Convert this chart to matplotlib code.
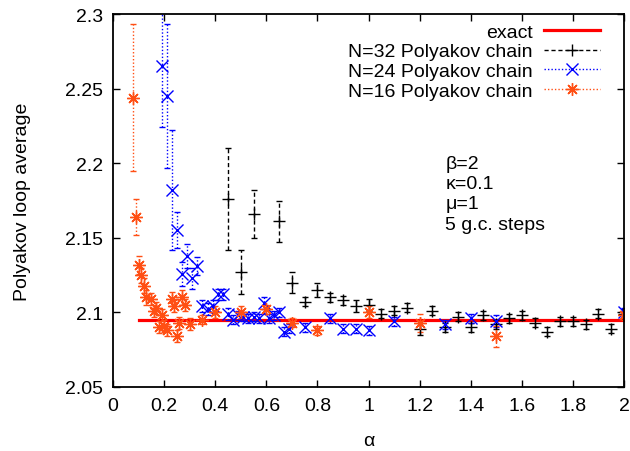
import matplotlib.pyplot as plt
from matplotlib.lines import Line2D
import numpy as np

plt.rcParams['font.family'] = ['Liberation Sans', 'DejaVu Sans']

exact_value = 2.095
exact_range = [0.1, 2.0]

# N=16 Polyakov chain
a16 = [0.08, 0.09, 0.10, 0.11, 0.12, 0.13, 0.15, 0.16, 0.17, 0.18, 0.19, 0.20,
       0.21, 0.23, 0.24, 0.25, 0.26, 0.27, 0.28, 0.30, 0.35, 0.40, 0.50, 0.60,
       0.70, 0.80, 1.00, 1.20, 1.50, 2.00]
p16 = [2.244, 2.164, 2.132, 2.125, 2.118, 2.110, 2.109, 2.101, 2.103, 2.090, 2.098, 2.091,
       2.088, 2.109, 2.104, 2.084, 2.093, 2.110, 2.105, 2.092, 2.095, 2.100, 2.100, 2.102,
       2.093, 2.088, 2.100, 2.093, 2.084, 2.098]
e16 = [0.049, 0.012, 0.006, 0.005, 0.005, 0.005, 0.004, 0.004, 0.004, 0.004, 0.004, 0.004,
       0.004, 0.005, 0.004, 0.004, 0.004, 0.005, 0.004, 0.004, 0.003, 0.004, 0.004, 0.003,
       0.003, 0.003, 0.004, 0.006, 0.007, 0.003]

# N=24 Polyakov chain
a24 = [0.19, 0.21, 0.23, 0.25, 0.27, 0.29, 0.31, 0.33, 0.35, 0.37, 0.39, 0.41,
       0.43, 0.45, 0.47, 0.49, 0.51, 0.53, 0.55, 0.57, 0.59, 0.61, 0.63, 0.65,
       0.67, 0.69, 0.75, 0.85, 0.90, 0.95, 1.00, 1.10, 1.30, 1.40, 1.50, 2.00]
p24 = [2.265, 2.245, 2.182, 2.155, 2.126, 2.138, 2.123, 2.131, 2.104, 2.102, 2.104, 2.112,
       2.112, 2.099, 2.095, 2.098, 2.097, 2.096, 2.097, 2.096, 2.106, 2.096, 2.098, 2.100,
       2.087, 2.089, 2.090, 2.096, 2.089, 2.089, 2.088, 2.094, 2.092, 2.096, 2.094, 2.100]
e24 = [0.041, 0.048, 0.040, 0.012, 0.008, 0.008, 0.007, 0.006, 0.004, 0.004, 0.004, 0.004,
       0.004, 0.004, 0.003, 0.003, 0.003, 0.003, 0.003, 0.003, 0.004, 0.003, 0.003, 0.003,
       0.003, 0.003, 0.003, 0.003, 0.003, 0.003, 0.003, 0.003, 0.003, 0.003, 0.004, 0.003]

# N=32 Polyakov chain
a32 = [0.45, 0.50, 0.55, 0.65, 0.70, 0.75, 0.80, 0.85, 0.90, 0.95, 1.00, 1.05,
       1.10, 1.15, 1.20, 1.25, 1.30, 1.35, 1.40, 1.45, 1.50, 1.55, 1.60, 1.65,
       1.70, 1.75, 1.80, 1.85, 1.90, 1.95, 2.00]
p32 = [2.176, 2.127, 2.166, 2.161, 2.120, 2.107, 2.115, 2.110, 2.108, 2.104, 2.105, 2.099,
       2.101, 2.103, 2.089, 2.101, 2.090, 2.097, 2.090, 2.098, 2.092, 2.096, 2.098, 2.093,
       2.087, 2.094, 2.094, 2.092, 2.099, 2.089, 2.099]
e32 = [0.034, 0.015, 0.016, 0.014, 0.007, 0.003, 0.005, 0.003, 0.003, 0.004, 0.004, 0.003,
       0.003, 0.003, 0.004, 0.003, 0.003, 0.003, 0.003, 0.003, 0.003, 0.003, 0.003, 0.003,
       0.003, 0.003, 0.003, 0.003, 0.003, 0.003, 0.003]

annotation = ['\u03b2=2', '\u03ba=0.1', '\u03bc=1', '5 g.c. steps']

c_exact = '#ff0000'
c32 = '#000000'
c24 = '#0000ff'
c16 = '#ff4f14'
star = (8, 2, 0)
fs = 14


def draw_series(ax, x, y, err, color, marker, ls, ms):
    eb = ax.errorbar(x, y, yerr=err, marker=marker, linestyle='none', color=color, ms=ms,
                     mew=1.0, elinewidth=1.0, capsize=2.5, capthick=1.0)
    for coll in eb[2]:
        coll.set_linestyle(ls)
    return eb


fig = plt.figure(figsize=(6.3, 4.52), dpi=100)
ax = fig.add_axes([0.1794, 0.1416, 0.8111, 0.8252])

ax.plot(exact_range, [exact_value, exact_value], color=c_exact, lw=2.3, zorder=2)
draw_series(ax, a32, p32, e32, c32, '+', (0, (3, 2)), 8)
draw_series(ax, a24, p24, e24, c24, 'x', (0, (1, 1.5)), 8)
draw_series(ax, a16, p16, e16, c16, star, (0, (1, 1.5)), 9)

ax.set_xlim(0, 2)
ax.set_ylim(2.05, 2.3)
ax.set_xticks(np.arange(0, 2.01, 0.2))
ax.set_xticklabels(['0', '0.2', '0.4', '0.6', '0.8', '1', '1.2', '1.4', '1.6', '1.8', '2'])
ax.set_yticks([2.05, 2.1, 2.15, 2.2, 2.25, 2.3])
ax.set_yticklabels(['2.05', '2.1', '2.15', '2.2', '2.25', '2.3'])
ax.tick_params(direction='in', length=5, width=1, labelsize=fs, top=True, right=True, pad=7)
for s in ax.spines.values():
    s.set_linewidth(1.3)

ax.set_xlabel('\u03b1', fontsize=fs)
ax.xaxis.set_label_coords(0.5, -0.12)
ax.set_ylabel('Polyakov loop average', fontsize=fs)
ax.yaxis.set_label_coords(-0.16, 0.5)

for i, t in enumerate(annotation):
    ax.text(0.65, 0.6 - i * 0.0545, t, transform=ax.transAxes, fontsize=fs, va='center')

handles = [
    Line2D([], [], color=c_exact, lw=2.3),
    Line2D([], [], color=c32, lw=1.0, ls=(0, (3, 2)), marker='+', ms=8),
    Line2D([], [], color=c24, lw=1.0, ls=(0, (1, 1.5)), marker='x', ms=8),
    Line2D([], [], color=c16, lw=1.0, ls=(0, (1, 1.5)), marker=star, ms=9),
]
labels = ['exact', 'N=32 Polyakov chain', 'N=24 Polyakov chain', 'N=16 Polyakov chain']
ax.legend(handles, labels, loc='upper right', bbox_to_anchor=(0.953, 0.975), frameon=False,
          markerfirst=False, fontsize=fs, handlelength=2.9, labelspacing=0.1,
          handletextpad=0.57, borderaxespad=0, borderpad=0)

fig.savefig('out.png', dpi=100)
